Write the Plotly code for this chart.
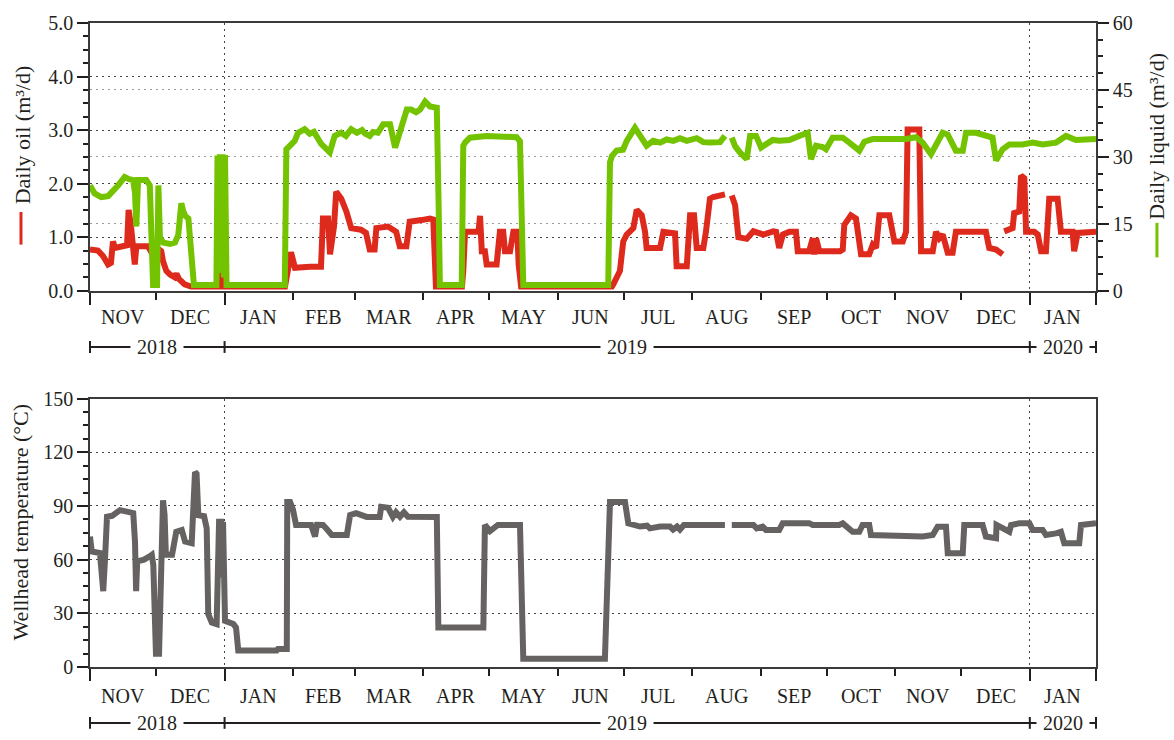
import pandas as pd
import plotly.graph_objects as go

START = pd.Timestamp("2018-11-01")
END = pd.Timestamp("2020-01-31")

# Daily oil rate (m3/d); day = days elapsed since 1 Nov 2018, None = missing record
oil_day = [0.0, 3.6, 5.9, 8.2, 9.5, 10.4, 11.3, 14.1, 16.8, 17.5, 18.6, 20.3, 21.0, 26.3, 27.6,
           28.1, 30.4, 32.3, 33.1, 34.6, 36.3, 38.4, 39.2, 40.3, 42.9, 45.2, 45.8, 58.5, 58.9,
           59.8, 60.3, 88.4, 89.3, 90.2, 91.1, 92.0, 92.9, 99.7, 104.7, 105.6, 107.9, 108.8,
           109.7, 110.6, 111.6, 113.9, 116.2, 118.4, 122.8, 125.1, 126.8, 129.0, 129.8, 135.1,
           138.8, 140.4, 143.4, 144.9, 150.2, 154.1, 155.6, 155.9, 156.8, 168.6, 169.2, 170.0,
           174.5, 176.1, 176.8, 177.2, 177.6, 179.0, 179.8, 184.3, 185.8, 187.3, 188.1, 190.4,
           191.9, 193.7, 194.3, 195.4, 236.6, 237.2, 240.2, 241.7, 243.3, 246.3, 247.8, 250.1,
           251.6, 252.3, 258.4, 259.9, 265.2, 265.9, 270.5, 272.0, 273.8, 275.0, 278.0, 279.2,
           281.0, 282.5, 287.1, 287.8, 289.4, 290.9, 292.4, 293.9, 297.7, 300.7, 305.2, 309.7,
           311.0, 312.4, 314.1, 317.0, 320.0, 320.8, 326.0, 327.6, 328.3, 329.1, 330.6, 340.0,
           341.2, 341.9, 344.9, 347.2, 348.7, 349.5, 353.2, 354.8, 356.3, 357.8, 362.3, 364.6,
           368.4, 369.9, 370.6, 375.9, 376.7, 382.0, 383.5, 385.0, 386.5, 388.8, 391.0, 392.5,
           406.1, 407.6, 410.7, 413.7, 414.0, 414.4, 418.2, 418.9, 421.2, 422.0, 423.5, 424.3,
           428.0, 429.6, 431.1, 433.3, 434.8, 438.6, 440.1, 445.4, 446.1, 447.7, 456.0]
oil_rate = [0.77, 0.75, 0.65, 0.49, 0.52, 0.92, 0.80, 0.82, 0.85, 1.51, 1.20, 0.49, 0.83, 0.83, 0.75,
            0.70, 0.80, 0.74, 0.55, 0.37, 0.30, 0.25, 0.32, 0.22, 0.12, 0.09, 0.08, 0.08, 0.42,
            0.40, 0.08, 0.08, 0.40, 0.50, 0.72, 0.50, 0.43, 0.45, 0.45, 1.35, 1.35, 0.68,
            1.00, 1.20, 1.85, 1.72, 1.48, 1.17, 1.14, 1.08, 0.77, 0.77, 1.17, 1.20,
            1.10, 0.83, 0.83, 1.29, 1.32, 1.35, 1.33, 0.70, 0.08, 0.08, 0.37, 1.10,
            1.10, 1.10, 1.40, 1.10, 0.74, 0.74, 0.49, 0.49, 1.10, 1.10, 0.74, 0.74,
            1.10, 1.10, 0.49, 0.08, 0.08, 0.12, 0.37, 0.92, 1.05, 1.17, 1.51, 1.41,
            1.10, 0.80, 0.80, 1.10, 1.07, 0.46, 0.46, 1.41, 1.41, 0.80, 0.80, 1.10,
            1.72, 1.75, 1.78, 1.80, None, 1.78, 1.60, 1.00, 0.97, 1.11, 1.05, 1.11,
            1.10, 0.80, 1.05, 1.10, 1.10, 0.74, 0.74, 0.98, 0.68, 0.98, 0.74, 0.74,
            0.77, 1.23, 1.41, 1.35, 0.98, 0.68, 0.68, 0.86, 0.80, 1.41, 1.41, 0.92,
            0.92, 1.10, 3.01, 3.01, 0.74, 0.74, 1.10, 0.98, 1.05, 0.71, 0.71, 1.10,
            1.10, 0.80, 0.77, 0.68, None, 1.11, 1.17, 1.45, 1.48, 2.15, 2.10, 1.10,
            1.10, 1.05, 0.74, 0.74, 1.72, 1.72, 1.10, 1.10, 0.74, 1.08, 1.10]

# Daily liquid rate (m3/d)
liquid_day = [0.0, 2.1, 5.1, 8.2, 12.7, 15.7, 17.7, 19.5, 20.4, 21.0, 21.8, 25.5, 27.1, 28.0, 28.6,
              30.4, 31.0, 31.7, 33.2, 36.3, 38.5, 40.0, 41.4, 42.2, 43.1, 44.6, 45.3, 46.2, 47.1,
              57.3, 57.8, 58.5, 58.9, 59.6, 60.1, 60.7, 61.2, 61.9, 88.3, 89.0, 90.5, 92.8, 94.3,
              97.3, 99.6, 101.5, 104.8, 108.7, 110.9, 113.8, 116.0, 118.4, 121.0, 123.3, 124.7,
              126.8, 128.3, 130.5, 132.9, 136.0, 138.3, 140.5, 143.6, 145.6, 147.8, 149.6, 151.9,
              154.1, 157.2, 158.0, 158.6, 168.5, 169.2, 170.0, 172.2, 179.8, 185.8, 190.4, 193.4,
              194.9, 195.7, 196.4, 234.9, 235.7, 236.6, 238.7, 241.6, 243.3, 247.0, 249.3, 252.3,
              255.3, 258.4, 261.4, 264.4, 267.4, 270.5, 275.0, 278.0, 281.0, 285.6, 287.8, 289.4,
              290.9, 292.4, 294.6, 297.7, 299.2, 301.9, 304.2, 306.5, 309.5, 312.4, 317.0, 321.5,
              325.3, 326.8, 329.1, 332.1, 333.6, 336.6, 341.2, 344.2, 348.7, 351.0, 354.8, 362.3,
              369.9, 374.4, 377.4, 381.2, 383.5, 386.5, 388.8, 392.5, 395.6, 397.1, 401.6, 406.1,
              409.1, 410.7, 413.7, 416.7, 422.7, 427.3, 431.8, 437.9, 442.4, 446.9, 452.9, 456.0]
liquid_rate = [23.6, 21.8, 21.0, 21.2, 23.6, 25.5, 25.0, 24.8, 22.0, 14.4, 24.8, 24.8, 23.6, 12.0, 1.3,
               1.3, 23.6, 12.0, 10.8, 10.5, 10.8, 12.5, 19.6, 18.0, 16.8, 16.2, 12.0, 5.0, 1.3,
               1.3, 30.3, 4.0, 30.6, 8.0, 30.6, 3.0, 30.4, 1.3, 1.3, 31.7, 32.5, 33.6, 35.4,
               36.2, 35.2, 35.6, 32.9, 31.0, 34.7, 35.4, 34.7, 36.2, 35.4, 36.0, 35.2,
               34.7, 35.6, 35.4, 37.3, 37.3, 32.1, 35.4, 40.6, 40.6, 40.0, 40.6, 42.4,
               41.3, 41.0, 20.0, 1.3, 1.3, 32.5, 33.2, 34.3, 34.7, 34.7, 34.4, 34.4,
               33.5, 20.0, 1.3, 1.3, 28.8, 30.2, 31.4, 31.6, 33.6, 36.5, 35.0, 32.5,
               33.6, 33.2, 33.9, 33.6, 34.2, 33.6, 34.2, 33.3, 33.2, 33.3, 34.7, None,
               34.3, 32.4, 31.0, 29.5, 34.7, 34.7, 32.1, 33.0, 33.8, 33.6, 33.8, 34.7,
               35.4, 29.5, 32.5, 32.2, 31.7, 34.3, 34.3, 33.2, 31.4, 33.4, 34.0, 34.0,
               34.0, 34.4, 33.2, 30.6, 32.5, 35.4, 35.0, 31.4, 31.4, 35.4, 35.4, 34.7,
               34.3, 29.2, 31.7, 32.8, 32.8, 33.2, 32.8, 33.2, 34.7, 33.8, 33.8, 34.0]

# Wellhead temperature (deg C)
temp_day = [0.0, 0.8, 4.5, 5.3, 6.0, 6.8, 7.7, 10.0, 12.7, 13.6, 17.2, 19.6, 20.4, 20.9, 21.4, 24.5,
            27.2, 28.0, 28.7, 29.5, 29.9, 31.3, 31.7, 32.5, 33.1, 33.8, 34.4, 37.2, 39.1, 41.6,
            43.1, 46.1, 46.8, 47.6, 48.3, 49.1, 51.7, 52.9, 53.6, 55.2, 57.4, 58.0, 58.5, 59.4,
            59.8, 60.3, 60.7, 61.2, 65.0, 66.2, 67.2, 84.6, 85.2, 89.2, 89.4, 90.7, 92.0, 93.4,
            100.2, 101.1, 102.0, 102.9, 105.6, 107.4, 109.6, 116.4, 117.9, 120.6, 123.7, 125.4,
            131.3, 132.0, 135.1, 137.3, 138.7, 140.5, 142.3, 144.1, 157.2, 157.9, 178.3, 179.0,
            181.3, 184.9, 194.9, 196.4, 233.4, 235.7, 242.5, 244.0, 249.3, 252.5, 253.8, 258.4,
            262.9, 264.3, 266.1, 267.4, 269.2, 287.8, 289.4, 290.9, 300.7, 302.2, 304.9, 306.4,
            312.4, 314.0, 326.0, 327.6, 339.6, 341.2, 345.7, 348.7, 350.2, 353.2, 354.0, 377.4,
            382.0, 384.2, 388.0, 388.8, 395.6, 396.3, 404.6, 406.1, 410.7, 410.9, 413.8, 416.7,
            417.5, 421.2, 425.8, 427.3, 431.8, 433.3, 437.9, 440.1, 441.6, 448.4, 449.2, 456.0]
temp_value = [72.9, 64.6, 63.7, 48.0, 42.4, 60.0, 84.0, 84.5, 86.7, 87.7, 86.7, 86.0, 70.0, 42.4, 59.0, 60.0,
              62.0, 62.7, 57.0, 29.5, 7.4, 7.4, 29.0, 92.3, 93.2, 85.0, 62.7, 62.7, 75.6, 76.6,
              70.1, 69.2, 83.0, 108.9, 108.0, 84.9, 84.3, 77.5, 29.5, 24.9, 24.0, 60.0, 81.2, 81.2,
              50.0, 81.2, 47.0, 25.8, 24.0, 22.0, 9.2, 9.2, 10.1, 10.1, 92.3, 92.3, 88.0, 79.4,
              79.4, 76.0, 72.9, 79.5, 79.4, 77.0, 73.8, 73.8, 84.9, 86.0, 84.5, 83.9,
              83.9, 89.5, 89.0, 83.9, 86.5, 84.0, 86.5, 84.0, 83.9, 22.1, 22.1, 79.4,
              76.0, 79.4, 79.4, 4.6, 4.6, 92.3, 92.3, 80.3, 78.5, 79.0, 77.5, 78.5,
              78.5, 76.8, 78.5, 76.8, 79.4, 79.4, None, 79.4, 79.4, 77.5, 78.5, 76.6,
              76.6, 80.3, 80.3, 79.4, 79.4, 80.3, 75.6, 75.6, 79.4, 79.4, 73.8, 73.0,
              73.8, 78.4, 78.4, 63.6, 63.6, 79.4, 79.4, 72.9, 72.0, 79.4, 77.5, 75.6,
              79.4, 80.3, 80.3, 76.6, 76.6, 73.8, 74.7, 75.6, 69.2, 69.2, 79.4, 80.3]

month_labels = ["NOV", "DEC", "JAN", "FEB", "MAR", "APR", "MAY", "JUN",
                "JUL", "AUG", "SEP", "OCT", "NOV", "DEC", "JAN"]
year_labels = ["2018", "2019", "2020"]
year_bounds = [START, pd.Timestamp("2019-01-01"), pd.Timestamp("2020-01-01"), END]

RED = "#de2a1c"
GREEN = "#74c300"
GRAY = "#666262"
INK = "#231f20"
FONT = "Liberation Serif"


def to_dates(days):
    return [START + pd.Timedelta(days=d) for d in days]


def frac(ts):
    return (ts - START) / (END - START)


month_starts = list(pd.date_range(START, "2020-01-01", freq="MS"))
month_mids = [a + (b - a) / 2 for a, b in zip(month_starts, month_starts[1:] + [END])]

fig = go.Figure()
fig.add_trace(go.Scatter(x=to_dates(oil_day), y=oil_rate, mode="lines",
                         line=dict(color=RED, width=6), connectgaps=False,
                         xaxis="x", yaxis="y", showlegend=False))
fig.add_trace(go.Scatter(x=to_dates(liquid_day), y=liquid_rate, mode="lines",
                         line=dict(color=GREEN, width=6), connectgaps=False,
                         xaxis="x", yaxis="y2", showlegend=False))
fig.add_trace(go.Scatter(x=to_dates(temp_day), y=temp_value, mode="lines",
                         line=dict(color=GRAY, width=6), connectgaps=False,
                         xaxis="x2", yaxis="y3", showlegend=False))

DOT = "2px,4px"
tick_font = dict(family=FONT, size=20, color=INK)


def x_axis(anchor):
    return dict(type="date", range=[START, END], anchor=anchor, domain=[0, 1],
                tickmode="array", tickvals=year_bounds, showticklabels=False,
                ticks="outside", ticklen=12, tickwidth=2, tickcolor=INK,
                showgrid=True, gridcolor="#444", griddash=DOT, gridwidth=1.2,
                minor=dict(tickmode="array", tickvals=month_starts, ticks="outside",
                           ticklen=7, tickwidth=2, tickcolor=INK, showgrid=False),
                showline=True, linecolor="#3a3a3a", linewidth=1.6, mirror=True,
                zeroline=False)


def y_axis(rng, dtick, minor, fmt, **kw):
    d = dict(range=rng, tick0=0, dtick=dtick, tickformat=fmt, ticks="outside",
             ticklen=11, tickwidth=2, tickcolor=INK, tickfont=tick_font,
             minor=dict(dtick=minor, tick0=0, ticks="outside", ticklen=5, tickwidth=2,
                        tickcolor=INK, showgrid=False),
             showgrid=True, gridcolor="#444", griddash=DOT, gridwidth=1.2,
             showline=True, linecolor="#3a3a3a", linewidth=1.6, zeroline=False)
    d.update(kw)
    return d


TOP = [0.5842, 1.0]
BOT = [0.0, 0.4167]

fig.update_layout(
    width=1174, height=740,
    margin=dict(l=90, r=78, t=16, b=73),
    paper_bgcolor="white", plot_bgcolor="white",
    font=dict(family=FONT, size=20, color=INK),
    xaxis=x_axis("y"),
    xaxis2=x_axis("y3"),
    yaxis=y_axis([0, 5], 1, 0.25, ".1f", domain=TOP, anchor="x", mirror=True),
    yaxis2=y_axis([0, 60], 15, 3.75, "d", overlaying="y", side="right", anchor="x",
                  gridcolor="#9a9a9a"),
    yaxis3=y_axis([0, 150], 30, 7.5, "d", domain=BOT, anchor="x2", mirror=True),
)

annotations = []
shapes = []

# month names centred in each month, and the year bars beneath
for xref, y_month, y_year in (("x", 0.5438, 0.4969), ("x2", -0.0456, -0.0868)):
    for mid, lab in zip(month_mids, month_labels):
        annotations.append(dict(x=mid, y=y_month, xref=xref, yref="paper", text=lab,
                                showarrow=False, xanchor="center", yanchor="middle",
                                font=dict(family=FONT, size=20, color=INK)))
    shapes.append(dict(type="line", xref="paper", yref="paper", x0=0, x1=1,
                       y0=y_year, y1=y_year, line=dict(color=INK, width=2)))
    for b in year_bounds:
        f = frac(b)
        shapes.append(dict(type="line", xref="paper", yref="paper", x0=f, x1=f,
                           y0=y_year - 0.0092, y1=y_year + 0.0092,
                           line=dict(color=INK, width=2)))
    for a, b, lab in zip(year_bounds[:-1], year_bounds[1:], year_labels):
        annotations.append(dict(x=(frac(a) + frac(b)) / 2, y=y_year, xref="paper", yref="paper",
                                text=lab, showarrow=False, xanchor="center", yanchor="middle",
                                bgcolor="white", borderpad=6,
                                font=dict(family=FONT, size=20, color=INK)))

# axis titles with their series swatches
title_font = dict(family=FONT, size=22, color=INK)
annotations += [
    dict(x=-0.0676, y=0.8272, xref="paper", yref="paper", text="Daily oil (m³/d)",
         textangle=-90, showarrow=False, xanchor="center", yanchor="middle", font=title_font),
    dict(x=1.0606, y=0.8249, xref="paper", yref="paper", text="Daily liquid (m³/d)",
         textangle=-90, showarrow=False, xanchor="center", yanchor="middle", font=title_font),
    dict(x=-0.0686, y=0.2258, xref="paper", yref="paper", text="Wellhead temperature (°C)",
         textangle=-90, showarrow=False, xanchor="center", yanchor="middle", font=title_font),
]
shapes += [
    dict(type="line", xref="paper", yref="paper", x0=-0.0686, x1=-0.0686, y0=0.6559, y1=0.7066,
         line=dict(color=RED, width=3)),
    dict(type="line", xref="paper", yref="paper", x0=1.0606, x1=1.0606, y0=0.636, y1=0.6897,
         line=dict(color=GREEN, width=3)),
]

fig.update_layout(annotations=annotations, shapes=shapes)
fig.write_html("out.html")
